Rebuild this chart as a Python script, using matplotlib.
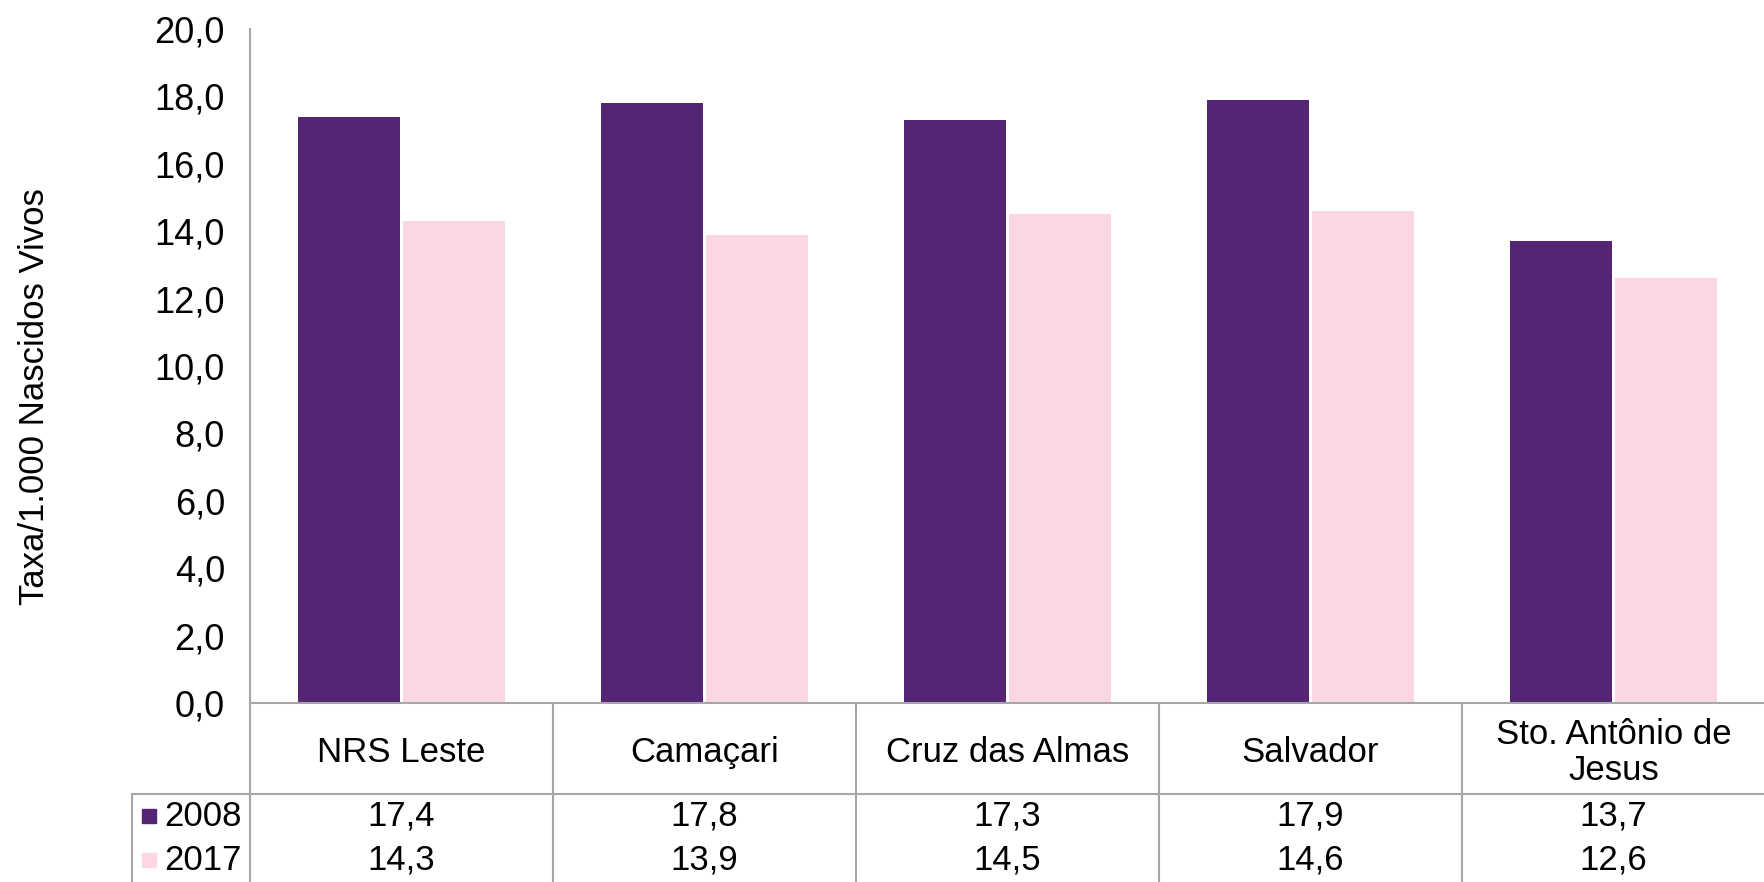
import matplotlib.pyplot as plt
import numpy as np
from matplotlib.patches import Rectangle

plt.rcParams['font.family'] = ['Liberation Sans', 'DejaVu Sans']

# dados
categorias = ["NRS Leste", "Camaçari", "Cruz das Almas", "Salvador", "Sto. Antônio de\nJesus"]
anos = ["2008", "2017"]
taxa_2008 = [17.4, 17.8, 17.3, 17.9, 13.7]
taxa_2017 = [14.3, 13.9, 14.5, 14.6, 12.6]
yticks = np.arange(0, 20.1, 2.0)

cores = ["#552474", "#FCD6E5"]
cinza = "#A6A6A6"
W, H = 1765, 882
fs = 25

fig = plt.figure(figsize=(W / 100, H / 100), dpi=100)

# eixo do grafico (em pixels)
x0, x1 = 250, 1765
y_zero, y_top = 703, 29
ax = fig.add_axes([x0 / W, 1 - y_zero / H, (x1 - x0) / W, (y_zero - y_top) / H])

x = np.arange(len(categorias))
larg = 0.335
desl = 0.173
for i, (vals, cor) in enumerate(zip([taxa_2008, taxa_2017], cores)):
    ax.bar(x + (2 * i - 1) * desl, vals, width=larg, color=cor,
           edgecolor="none", label=anos[i])

ax.set_xlim(-0.5, len(categorias) - 0.5)
ax.set_ylim(0, 20)
ax.set_yticks(yticks)
ax.set_yticklabels([f"{v:.1f}".replace(".", ",") for v in yticks], fontsize=fs + 1)
ax.tick_params(axis="y", length=0, pad=18)
ax.set_xticks([])
for s in ["top", "right", "bottom"]:
    ax.spines[s].set_visible(False)
ax.spines["left"].set_color(cinza)
ax.spines["left"].set_linewidth(1.5)

fig.text(35 / W, 1 - 397 / H, "Taxa/1.000 Nascidos Vivos", rotation=90,
         ha="center", va="center", fontsize=fs)

# tabela de dados abaixo do grafico
leg_x = 132
cat_px = (x1 - x0) / len(categorias)
tab = fig.add_axes([leg_x / W, 0, (x1 - leg_x) / W, (H - y_zero) / H])
xl = -0.5 - (x0 - leg_x) / cat_px
tab.set_xlim(xl, len(categorias) - 0.5)
tab.set_ylim(H, y_zero)  # coordenadas em pixels, de cima para baixo
tab.axis("off")

y_row1 = 794
kw = dict(color=cinza, linewidth=1.5, clip_on=False)
tab.plot([-0.5, len(categorias) - 0.5], [y_zero, y_zero], **kw)
tab.plot([xl, len(categorias) - 0.5], [y_row1, y_row1], **kw)
tab.plot([xl, xl], [y_row1, H], **kw)
for b in np.arange(len(categorias)) - 0.5:
    tab.plot([b, b], [y_zero, H], **kw)

for i, c in enumerate(categorias):
    tab.text(i, (y_zero + y_row1) / 2 + 4, c, ha="center", va="center",
             fontsize=fs, linespacing=1.15)

linhas_y = [816, 860]
lado = 14 / cat_px
for vals, ano, cor, yy in zip([taxa_2008, taxa_2017], anos, cores, linhas_y):
    tab.add_patch(Rectangle((xl + 10 / cat_px, yy - 7), lado, 14, color=cor, clip_on=False))
    tab.text(-0.5 - 8 / cat_px, yy, ano, fontsize=fs, ha="right", va="center")
    for i, v in enumerate(vals):
        tab.text(i, yy, f"{v:.1f}".replace(".", ","), ha="center", va="center", fontsize=fs)

fig.savefig("out.png", dpi=100)
